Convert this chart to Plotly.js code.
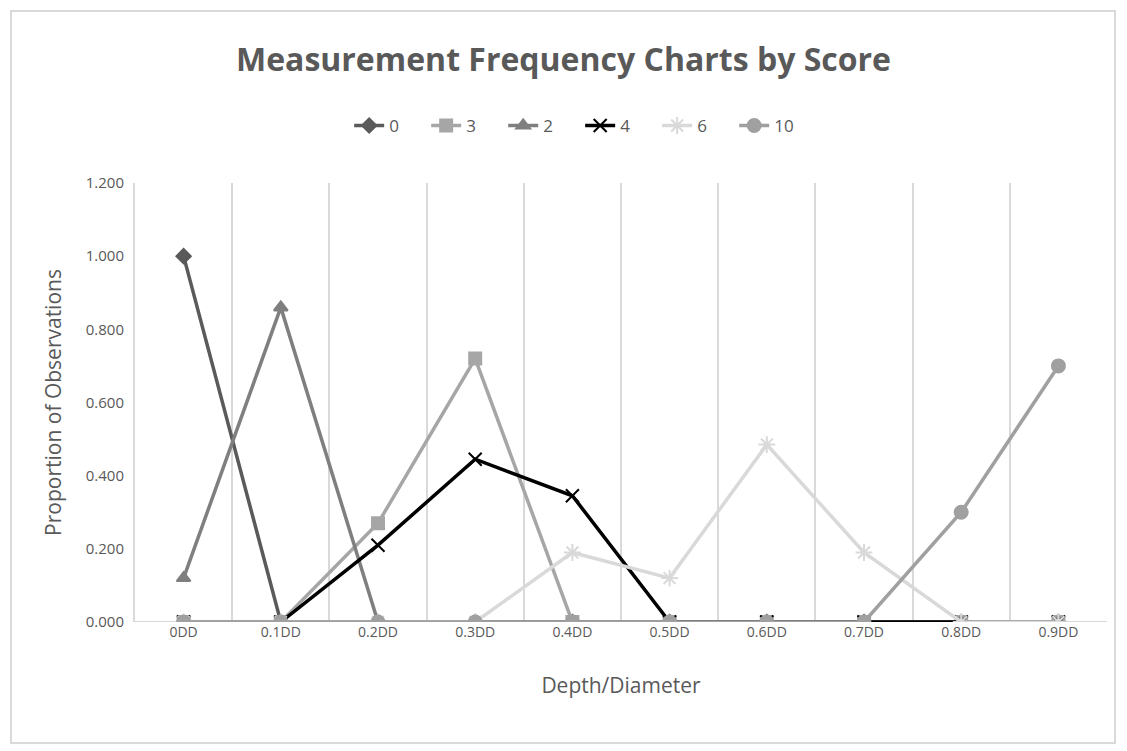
<!DOCTYPE html>
<html>
<head>
<meta charset="utf-8">
<script src="https://cdn.plot.ly/plotly-3.0.1.min.js"></script>
<style>
  html, body { margin: 0; padding: 0; background: #fff; }
  #frame { position: absolute; left: 10px; top: 10px; width: 1106px; height: 734px; border: 2px solid #d9d9d9; box-sizing: border-box; }
  #chart { position: absolute; left: 0; top: 0; width: 1127px; height: 751px; }
</style>
</head>
<body>
<div id="frame"></div>
<div id="chart"></div>
<script>
const categories = ["0DD", "0.1DD", "0.2DD", "0.3DD", "0.4DD", "0.5DD", "0.6DD", "0.7DD", "0.8DD", "0.9DD"];
const seriesNames = ["0", "3", "2", "4", "6", "10"];
const score0  = [1.0, 0, 0, 0, 0, 0, 0, 0, 0, 0];
const score3  = [0, 0, 0.27, 0.72, 0, 0, 0, 0, 0, 0];
const score2  = [0.12, 0.86, 0, 0, 0, 0, 0, 0, 0, 0];
const score4  = [0, 0, 0.21, 0.445, 0.345, 0, 0, 0, 0, 0];
const score6  = [0, 0, 0, 0, 0.19, 0.12, 0.485, 0.19, 0, 0];
const score10 = [0, 0, 0, 0, 0, 0, 0, 0, 0.30, 0.70];
const yTickVals = [0, 0.2, 0.4, 0.6, 0.8, 1.0, 1.2];

const values = [score0, score3, score2, score4, score6, score10];
const colors = ["#5a5a5a", "#a6a6a6", "#7f7f7f", "#000000", "#d9d9d9", "#a0a0a0"];
const symbols = ["diamond", "square", "triangle-up", "x-thin-open", "asterisk-open", "circle"];
const sizes = [11, 12, 12, 13, 14, 13];

const traces = seriesNames.map((n, i) => ({
  type: "scatter",
  mode: "lines+markers",
  name: n,
  x: categories,
  y: values[i],
  line: { color: colors[i], width: 3.5 },
  marker: { symbol: symbols[i], size: sizes[i], color: colors[i], line: { color: colors[i], width: 2 } }
}));

const layout = {
  width: 1127, height: 751,
  paper_bgcolor: "rgba(0,0,0,0)",
  plot_bgcolor: "rgba(0,0,0,0)",
  margin: { l: 135, r: 20, t: 183, b: 129 },
  font: { family: "Open Sans, sans-serif", color: "#595959" },
  title: { text: "<b>Measurement Frequency Charts by Score</b>", x: 0.5, xanchor: "center", y: 0.92, yanchor: "middle",
           font: { size: 32, color: "#595959", family: "Open Sans, sans-serif" } },
  showlegend: true,
  legend: { orientation: "h", x: 0.458, xanchor: "center", y: 1.13, yanchor: "middle",
            font: { size: 17, color: "#595959" }, entrywidth: 32, traceorder: "normal" },
  xaxis: {
    type: "category", tickson: "boundaries", ticklen: 0,
    showgrid: true, gridcolor: "#d9d9d9", gridwidth: 2,
    showline: false, zeroline: false,
    tickfont: { size: 14, color: "#595959" },
    title: { text: "Depth/Diameter", font: { size: 21, color: "#595959" }, standoff: 38 },
    range: [-0.5, 9.5]
  },
  yaxis: {
    range: [0, 1.2], tickvals: yTickVals, tickformat: ".3f",
    showgrid: false, zeroline: false, showline: true, linecolor: "#d9d9d9", linewidth: 2,
    tickfont: { size: 15, color: "#595959" }, ticks: "", ticklabelstandoff: 6,
    title: { text: "Proportion of Observations", font: { size: 21, color: "#595959" }, standoff: 18 }
  },
  shapes: [{ type: "line", xref: "paper", yref: "y", x0: 0, x1: 1, y0: 0, y1: 0, line: { color: "#d9d9d9", width: 2 }, layer: "below" }]
};

Plotly.newPlot("chart", traces, layout, { displayModeBar: false, staticPlot: true });
</script>
</body>
</html>
